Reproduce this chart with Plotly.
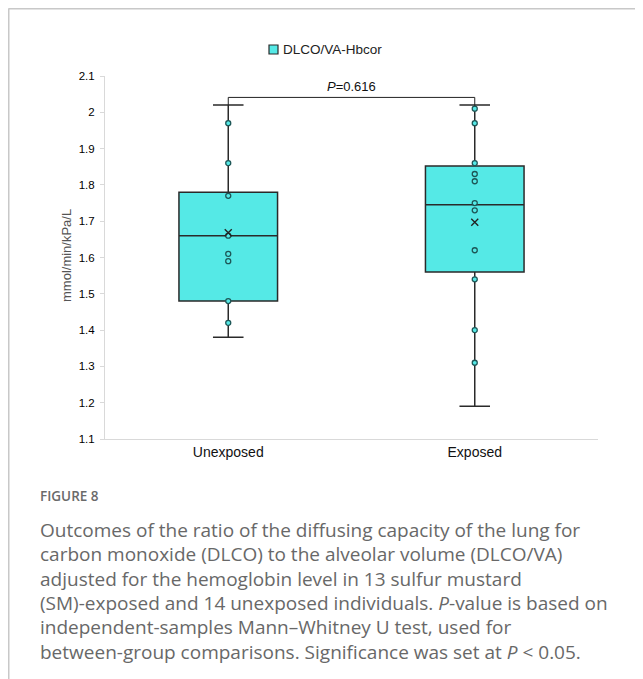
import plotly.graph_objects as go

# ---- data ----
categories = ["Unexposed", "Exposed"]
q1 = [1.48, 1.56]
median = [1.66, 1.745]
q3 = [1.78, 1.852]
lowerfence = [1.38, 1.19]
upperfence = [2.02, 2.02]
means = [1.668, 1.697]

unexposed_points = [1.97, 1.86, 1.77, 1.66, 1.61, 1.59, 1.48, 1.42]
exposed_points = [2.01, 1.97, 1.86, 1.83, 1.81, 1.75, 1.73, 1.62, 1.54, 1.40, 1.31]

y_tick_vals = [1.1, 1.2, 1.3, 1.4, 1.5, 1.6, 1.7, 1.8, 1.9, 2.0, 2.1]
y_tick_text = ["1.1", "1.2", "1.3", "1.4", "1.5", "1.6", "1.7", "1.8", "1.9", "2", "2.1"]

bracket_y = [2.02, 2.041, 2.041, 2.02]
p_text = "<i>P</i>=0.616"
series_name = "DLCO/VA-Hbcor"
y_title = "mmol/min/kPa/L"

caption_head = "FIGURE 8"
caption_lines = [
    "Outcomes of the ratio of the diffusing capacity of the lung for",
    "carbon monoxide (DLCO) to the alveolar volume (DLCO/VA)",
    "adjusted for the hemoglobin level in 13 sulfur mustard",
    "(SM)-exposed and 14 unexposed individuals. <i>P</i>-value is based on",
    "independent-samples Mann\u2013Whitney U test, used for",
    "between-group comparisons. Significance was set at <i>P</i> &lt; 0.05.",
]

# ---- layout geometry (figure pixels; page has an 8px body margin) ----
OFF = 8
W, H = 643 - OFF, 679 - OFF
L, T = 105 - OFF, 76 - OFF
PW, PH = 493, 363
R = W - L - PW
B = H - T - PH


def px(xpage):
    return (xpage - OFF - L) / PW


def py(ypage):
    return (H - B - (ypage - OFF)) / PH


FILL = "#55E9E6"
EDGE = "#2a2a2a"
FONT = "Liberation Sans, Arial, sans-serif"
CAP_FONT = "Open Sans, Lato, sans-serif"

fig = go.Figure()

fig.add_trace(go.Box(
    x=categories, q1=q1, median=median, q3=q3,
    lowerfence=lowerfence, upperfence=upperfence,
    fillcolor=FILL, line=dict(color=EDGE, width=1.5),
    width=0.4, whiskerwidth=0.31, boxpoints=False,
    name=series_name, showlegend=False, hoverinfo="skip",
))

pt_x = [categories[0]] * len(unexposed_points) + [categories[1]] * len(exposed_points)
pt_y = unexposed_points + exposed_points
fig.add_trace(go.Scatter(
    x=pt_x, y=pt_y, mode="markers",
    marker=dict(size=5, color=FILL, line=dict(color="#1d5656", width=1.3)),
    showlegend=False, hoverinfo="skip",
))

fig.add_trace(go.Scatter(
    x=categories, y=means, mode="markers",
    marker=dict(symbol="x-thin-open", size=7, color="#222222",
                line=dict(color="#222222", width=1.4)),
    showlegend=False, hoverinfo="skip",
))

fig.add_trace(go.Scatter(
    x=[categories[0], categories[0], categories[1], categories[1]], y=bracket_y,
    mode="lines", line=dict(color="#222222", width=1),
    showlegend=False, hoverinfo="skip",
))

annotations = [
    dict(x=0.5, y=bracket_y[1], xref="x", yref="y", text=p_text, showarrow=False,
         yanchor="bottom", yshift=1, font=dict(family=FONT, size=13, color="#111")),
    # legend text
    dict(x=px(281), y=py(49.5), xref="paper", yref="paper", text=series_name, showarrow=False,
         xanchor="left", yanchor="middle", font=dict(family=FONT, size=13.5, color="#222")),
    # y title
    dict(x=px(66), y=py(256), xref="paper", yref="paper", text=y_title, showarrow=False,
         textangle=-90, xanchor="center", yanchor="middle",
         font=dict(family=FONT, size=13, color="#555")),
    dict(x=px(38), y=py(496), xref="paper", yref="paper", text=caption_head, showarrow=False,
         xanchor="left", yanchor="middle",
         font=dict(family=CAP_FONT, size=13.5, color="#6a6a6a", weight=600)),
]
for i, line in enumerate(caption_lines):
    annotations.append(dict(
        x=px(38), y=py(530 + 24.3 * i), xref="paper", yref="paper", text=line,
        showarrow=False, xanchor="left", yanchor="middle",
        font=dict(family=CAP_FONT, size=19, color="#686868")))

shapes = [
    dict(type="rect", xref="paper", yref="paper", x0=px(269), x1=px(278), y0=py(45), y1=py(54),
         fillcolor=FILL, line=dict(color=EDGE, width=1.2)),
    dict(type="line", xref="paper", yref="paper", x0=px(8.5), x1=px(643), y0=py(8.75), y1=py(8.75),
         line=dict(color="#c8c8c8", width=1.5)),
    dict(type="line", xref="paper", yref="paper", x0=px(8.75), x1=px(8.75), y0=py(8.5), y1=py(679),
         line=dict(color="#c8c8c8", width=1.5)),
]

fig.update_layout(
    width=W, height=H, margin=dict(l=L, r=R, t=T, b=B),
    paper_bgcolor="white", plot_bgcolor="white",
    font=dict(family=FONT, size=11, color="#222"),
    annotations=annotations, shapes=shapes, showlegend=False,
)
fig.update_xaxes(
    type="category", range=[-0.5, 1.5], showline=True, linecolor="#d9d9d9", linewidth=1,
    ticks="", showgrid=False, zeroline=False,
    tickfont=dict(family=FONT, size=14, color="#111"),
)
fig.update_yaxes(
    range=[1.1, 2.1], tickvals=y_tick_vals, ticktext=y_tick_text,
    showline=True, linecolor="#d9d9d9", linewidth=1, ticks="outside", ticklen=4,
    tickcolor="#d9d9d9", showgrid=False, zeroline=False, ticklabelstandoff=3,
    tickfont=dict(family=FONT, size=11.5, color="#000"),
)

fig.write_html("out.html")
